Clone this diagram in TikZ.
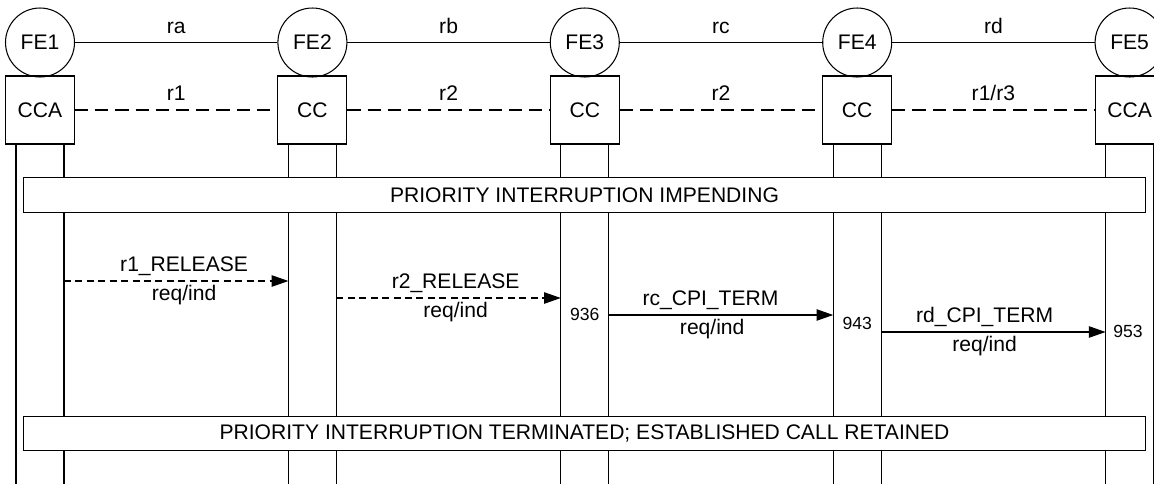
\documentclass[tikz,border=0pt]{standalone}
\usepackage{fontspec}
\setmainfont{Liberation Sans}
\usetikzlibrary{arrows.meta}
\begin{document}
\begin{tikzpicture}[x=0.02cm, y=-0.02cm, line width=0.6pt,
		font=\fontsize{12}{14}\selectfont,
		fe/.style={draw, circle, minimum size=1.38cm, inner sep=0pt},
		ccbox/.style={draw, rectangle, minimum width=1.38cm, minimum height=1.36cm, inner sep=0pt},
		phase/.style={draw, fill=white, minimum width=22.46cm, minimum height=0.69cm, inner sep=0pt},
		iface/.style={dash pattern=on 7.5pt off 4pt},
		flow/.style={dash pattern=on 4pt off 2.5pt},
		msg/.style={-{Triangle[length=9.5pt, width=6.5pt]}},
		lbl/.style={midway, anchor=base, yshift=5.3pt},
		sub/.style={midway, anchor=base, yshift=-11pt},
		num/.style={font=\fontsize{10}{12}\selectfont}]
			\useasboundingbox (0,0) rectangle (1154,484);
			% entities and their lifelines
			\foreach \i/\x/\fe/\cc in {1/40/FE1/CCA, 2/312.4/FE2/CC, 3/584.8/FE3/CC, 4/857.2/FE4/CC, 5/1129.6/FE5/CCA} {
				\node[fe] (fe\i) at (\x,42.5) {\fe};
				\node[ccbox] (cc\i) at (\x,110) {\cc};
				\coordinate (l\i) at (\x-24,484);
				\coordinate (r\i) at (\x+24,484);
				\draw (l\i |- cc\i.south) -- (l\i);
				\draw (r\i |- cc\i.south) -- (r\i);
			}
			% relationships
			\draw (fe1) -- node[lbl] {ra} (fe2);
			\draw (fe2) -- node[lbl] {rb} (fe3);
			\draw (fe3) -- node[lbl] {rc} (fe4);
			\draw (fe4) -- node[lbl] {rd} (fe5);
			\draw[iface] (cc1) -- node[lbl] {r1} (cc2);
			\draw[iface] (cc2) -- node[lbl] {r2} (cc3);
			\draw[iface] (cc3) -- node[lbl] {r2} (cc4);
			\draw[iface] (cc4) -- node[lbl] {r1/r3} (cc5);
			% phases
			\node[phase] (impending) at (584.5,195) {PRIORITY INTERRUPTION IMPENDING};
			\node[phase] (retained) at (584.5,433.5) {PRIORITY INTERRUPTION TERMINATED; ESTABLISHED CALL RETAINED};
			% information flows
			\draw[msg, flow] (r1 |- 0,281) -- node[lbl, xshift=4.5pt] {r1\_RELEASE} node[sub, xshift=4.5pt] {req/ind} (l2 |- 0,281);
			\draw[msg, flow] (r2 |- 0,298) -- node[lbl, xshift=4pt] {r2\_RELEASE} node[sub, xshift=4pt] {req/ind} (l3 |- 0,298);
			\draw[msg] (r3 |- 0,315) -- node[lbl, xshift=-6pt] {rc\_CPI\_TERM} node[sub, xshift=-5pt] {req/ind} (l4 |- 0,315);
			\draw[msg] (r4 |- 0,332) -- node[lbl, xshift=-5pt] {rd\_CPI\_TERM} node[sub, xshift=-5pt] {req/ind} (l5 |- 0,332);
			\node[num] (n936) at (584.8,314) {936};
			\node[num] (n943) at (857.2,323) {943};
			\node[num] (n953) at (1128,331) {953};
		\end{tikzpicture}
\end{document}
